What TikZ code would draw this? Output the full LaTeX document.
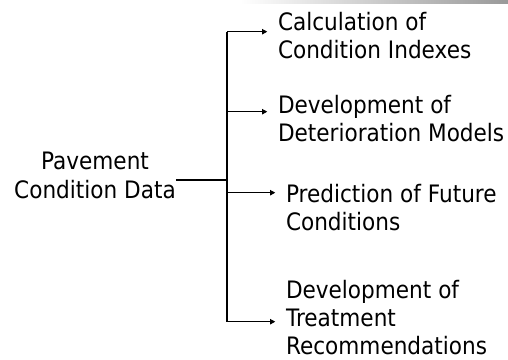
\documentclass[tikz,border=0pt]{standalone}
\usepackage{fontspec}
\setmainfont{DejaVu Sans}[FakeStretch=0.9]
\usepackage{tikz}
\usetikzlibrary{arrows.meta, positioning, calc}

\begin{document}
\begin{tikzpicture}[
  x=0.75pt, y=-0.75pt,
  label/.style={
    inner sep=0pt, outer sep=0pt, align=left, anchor=north west,
    font=\fontsize{18}{21}\selectfont,
  },
  spine/.style={line width=1.5pt},
  branch/.style={line width=1pt, -{Triangle[length=4pt,width=4pt]}, shorten >=8pt},
]
  \useasboundingbox (0,0) rectangle (508,360);

  % Top band
  \shade[left color=white, right color=gray!80] (240,0) rectangle (508,3.5);

  % Source
  \node[label, align=center, anchor=north] (pave) at (95,152) {Pavement\\[1pt]Condition Data};

  % Outputs
  \node[label] (calc) at (278,12) {Calculation of\\Condition Indexes};
  \node[label] (deter) at (278,95) {Development of\\Deterioration Models};
  \node[label] (predict) at (286,184) {Prediction of Future\\Conditions};
  \node[label] (treat) at (286,280) {Development of\\Treatment\\Recommendations};

  % Spine
  \coordinate (hub) at (227,180);
  \coordinate (b1) at (227,31.7);
  \coordinate (b2) at (227,111.7);
  \coordinate (b3) at (227,192.7);
  \coordinate (b4) at (227,321.7);
  \draw[spine] (b1) -- (b4);
  \draw[spine] (hub -| pave.east) -- (hub);

  % Branches
  \draw[branch] (b1) -- (b1 -| calc.west);
  \draw[branch] (b2) -- (b2 -| deter.west);
  \draw[branch] (b3) -- (b3 -| predict.west);
  \draw[branch] (b4) -- (b4 -| treat.west);
\end{tikzpicture}
\end{document}
